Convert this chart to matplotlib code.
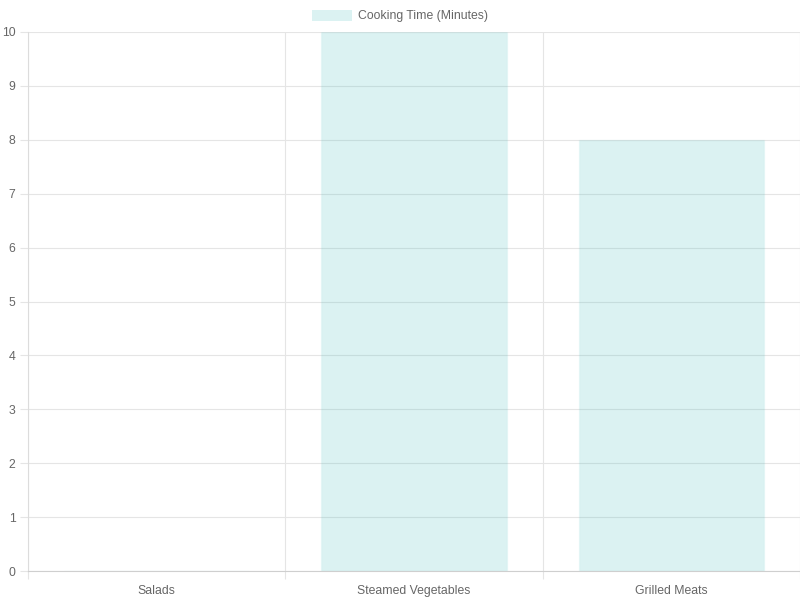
import matplotlib
matplotlib.use("Agg")
import matplotlib.pyplot as plt
from matplotlib.patches import Rectangle

categories = ["Salads", "Steamed Vegetables", "Grilled Meats"]
values = [0, 10, 8]
series_name = "Cooking Time (Minutes)"
y_ticks = list(range(0, 11))

plt.rcParams['font.family'] = ['Liberation Sans', 'DejaVu Sans']
fill = (75/255, 192/255, 192/255, 0.2)
grid_c = "#e5e5e5"
text_c = "#666666"
fs = 8.8

fig = plt.figure(figsize=(8, 6), dpi=100)
ax = fig.add_axes([28/800, 29/600, 772/800, 539/600])

x = list(range(len(categories)))
ax.bar(x, values, width=0.72, color=fill, edgecolor=(75/255, 192/255, 192/255, 0.05), linewidth=1, zorder=2)

ax.set_xlim(-0.5, len(categories) - 0.5)
ax.set_ylim(0, 10)
ax.set_yticks(y_ticks)
ax.set_xticks(x)
ax.set_xticklabels(categories)
ax.set_xticks([i - 0.5 for i in range(len(categories) + 1)], minor=True)

ax.tick_params(axis='x', which='major', length=0, pad=9.8, labelsize=fs, labelcolor=text_c)
ax.tick_params(axis='x', which='minor', length=6, color=grid_c, width=0.8)
ax.tick_params(axis='y', length=6, color=grid_c, width=0.8, pad=3, labelsize=fs, labelcolor=text_c)

ax.grid(True, axis='y', color=grid_c, linewidth=0.8, zorder=0)
ax.grid(True, axis='x', which='minor', color=grid_c, linewidth=0.8, zorder=0)
ax.grid(False, axis='x', which='major')
ax.set_axisbelow(True)

for s in ['top', 'right']:
    ax.spines[s].set_visible(False)
ax.spines['left'].set_color("#dcdcdc")
ax.spines['bottom'].set_color("#cfcfcf")
ax.spines['left'].set_linewidth(0.8)
ax.spines['bottom'].set_linewidth(0.8)

# legend
fig.patches.append(Rectangle((312/800, 1 - 21/600), 40/800, 11/600, transform=fig.transFigure,
                             facecolor=fill, edgecolor='none'))
fig.text(358/800, 1 - 16/600, series_name, fontsize=fs, color=text_c, va='center', ha='left')

fig.savefig("out.png", dpi=100, facecolor='white')
